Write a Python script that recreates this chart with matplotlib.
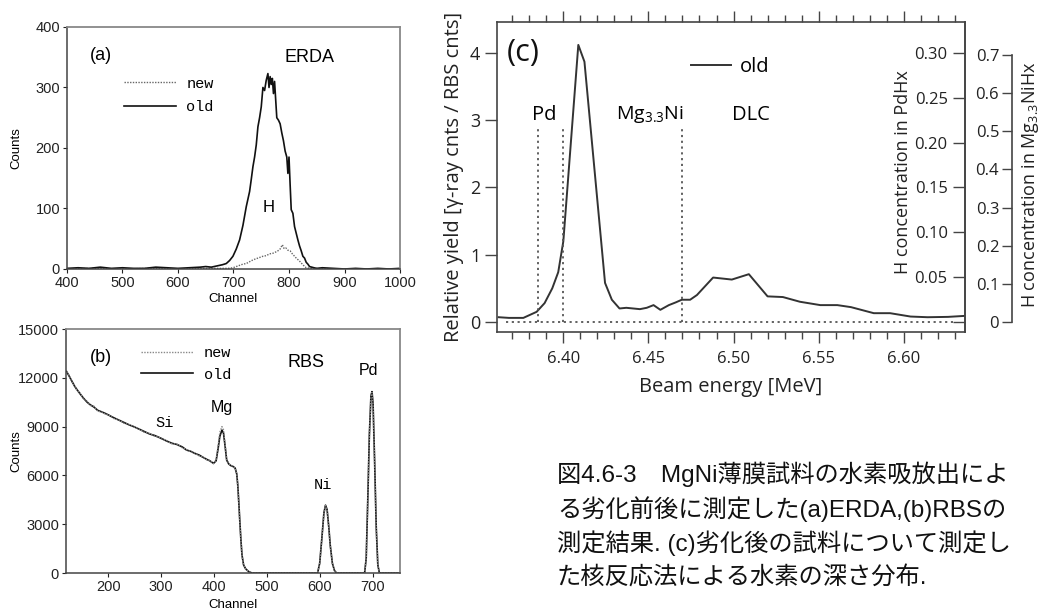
import matplotlib.pyplot as plt
import matplotlib as mpl
from matplotlib.ticker import MultipleLocator, FormatStrFormatter

mpl.rcParams['mathtext.default'] = 'regular'
narrow = ['Liberation Sans', 'DejaVu Sans']
mono = ['Liberation Mono', 'DejaVu Sans Mono']
myriad = ['Open Sans', 'DejaVu Sans']
cap_font = ['Liberation Sans', 'Noto Sans CJK JP']
plt.rcParams['font.family'] = narrow

# (a) ERDA spectra
erda_ch_old = [400, 420, 440, 460, 480, 500, 520, 540, 560, 580, 600, 620, 640,
               650, 660, 670, 680, 687, 693, 699, 705, 711, 717, 723, 729,
               732, 735, 738, 741, 744, 747, 750, 753, 756, 759, 762,
               764, 766, 768, 770, 772, 774, 776, 778,
               781, 784, 787, 790, 793, 796, 798, 800, 802, 804,
               807, 810, 813, 816, 819, 822, 825, 828, 831, 834, 837,
               841, 845, 850, 860, 880, 900, 920, 940, 960, 980, 1000]
erda_old = [1, 2, 1, 3, 1, 2, 1, 1, 3, 2, 1, 2, 3,
            4, 3, 5, 7, 9, 14, 21, 33, 48, 72, 103, 128,
            148, 169, 185, 205, 235, 250, 268, 300, 295, 312, 323,
            300, 318, 305, 315, 290, 310, 280, 250,
            246, 240, 225, 212, 195, 185, 158, 185, 140, 98,
            92, 70, 59, 48, 38, 30, 21, 18, 11, 8, 4,
            3, 2, 1, 2, 1, 0, 1, 0, 1, 0, 1]
erda_ch_new = [400, 450, 500, 550, 600, 650, 690, 699, 705, 711, 717, 723, 729,
               735, 741, 747, 753, 759, 765, 771, 776, 780, 784, 788, 791, 794,
               798, 802, 806, 810, 814, 818, 822, 826, 831, 840, 900, 1000]
erda_new = [0, 1, 0, 1, 0, 1, 1, 2, 4, 6, 8, 9, 12,
            15, 17, 19, 21, 22, 25, 26, 28, 30, 33, 40, 34, 35,
            31, 30, 25, 21, 17, 14, 10, 6, 2, 1, 0, 0]

# (b) RBS spectra
rbs_ch = [121, 126, 131, 136, 141, 147, 153, 160, 166, 173,
          180, 188, 195, 200, 210, 220, 230, 240, 248, 258,
          268, 278, 288, 295, 300, 310, 320, 330, 340, 348,
          356, 364, 372, 380, 386, 392, 399, 404, 408, 411,
          415, 418, 421, 424, 428, 432, 436, 440, 443, 445,
          447, 449, 451, 453, 456, 460, 466, 472, 500, 550,
          596, 600, 604, 608, 611, 614, 617, 620, 624, 628,
          632, 660, 685, 688, 691, 694, 697, 699, 701, 704,
          707, 710, 713, 730, 752]
rbs_old = [12390, 12100, 11800, 11500, 11260, 11000, 10750, 10500, 10340, 10200,
           10000, 9900, 9800, 9720, 9550, 9400, 9250, 9100, 9000, 8850,
           8700, 8550, 8450, 8350, 8280, 8120, 7980, 7900, 7750, 7560,
           7480, 7350, 7250, 7100, 6990, 6900, 6740, 6900, 7700, 8400,
           8790, 8600, 7800, 6940, 6700, 6600, 6550, 6450, 6100, 5400,
           4300, 3100, 2000, 1100, 500, 250, 80, 0, 0, 0,
           0, 600, 2100, 3700, 4170, 3900, 2900, 1700, 600, 150,
           0, 0, 0, 900, 4500, 8500, 10900, 11150, 10400, 6800,
           2800, 500, 0, 0, 0]
rbs_new = [12350, 12150, 11750, 11550, 11200, 11050, 10700, 10550, 10300, 10250,
           9950, 9900, 9750, 9750, 9500, 9420, 9200, 9120, 8980, 8870,
           8650, 8580, 8400, 8380, 8250, 8150, 7950, 7920, 7700, 7580,
           7450, 7380, 7200, 7120, 6960, 6920, 6720, 6950, 7850, 8650,
           9000, 8800, 7900, 7000, 6720, 6620, 6560, 6430, 6080, 5350,
           4250, 3050, 1950, 1050, 480, 230, 70, 0, 0, 0,
           0, 580, 2050, 3650, 4150, 3880, 2850, 1650, 580, 140,
           0, 0, 0, 880, 4450, 8450, 10850, 11100, 10350, 6750,
           2750, 480, 0, 0, 0]

# (c) nuclear reaction analysis depth profile
nra_e = [6.362, 6.368, 6.3765, 6.3843, 6.389, 6.3935, 6.397, 6.400, 6.4088, 6.4124,
         6.4245, 6.4285, 6.433, 6.437, 6.441, 6.445, 6.449, 6.453, 6.457, 6.462,
         6.466, 6.4696, 6.4745, 6.4785, 6.488, 6.499, 6.509, 6.520, 6.529, 6.539,
         6.551, 6.561, 6.569, 6.5824, 6.592, 6.604, 6.614, 6.626, 6.636]
nra_y = [0.07, 0.06, 0.06, 0.15, 0.28, 0.5, 0.74, 1.2, 4.12, 3.87,
         0.58, 0.33, 0.20, 0.21, 0.20, 0.19, 0.21, 0.25, 0.18, 0.25,
         0.29, 0.33, 0.33, 0.40, 0.66, 0.63, 0.71, 0.38, 0.37, 0.30,
         0.25, 0.25, 0.22, 0.13, 0.13, 0.08, 0.07, 0.075, 0.09]
layer_edges = [6.385, 6.400, 6.470]
pd_ticks = [0, 0.05, 0.10, 0.15, 0.20, 0.25, 0.30]
mg_ticks = [0, 0.1, 0.2, 0.3, 0.4, 0.5, 0.6, 0.7]
pd_per_unit = 0.075
mg_per_unit = 0.1763

caption = ['図4.6-3\u3000MgNi薄膜試料の水素吸放出によ',
           'る劣化前後に測定した(a)ERDA,(b)RBSの',
           '測定結果. (c)劣化後の試料について測定し',
           'た核反応法による水素の深さ分布.']

fig = plt.figure(figsize=(10.48, 6.12), dpi=100)
axa = fig.add_axes([0.0639, 0.5605, 0.3178, 0.3954])
axb = fig.add_axes([0.0630, 0.0637, 0.3187, 0.3987])
axc = fig.add_axes([0.4742, 0.4575, 0.4466, 0.5065])


def style_spec(ax):
    for s in ['top', 'right']:
        ax.spines[s].set_color('#888')
        ax.spines[s].set_linewidth(1.3)
    for s in ['left', 'bottom']:
        ax.spines[s].set_color('#444')
        ax.spines[s].set_linewidth(1.1)
    ax.tick_params(direction='out', length=3, width=0.8, labelsize=10.5,
                   pad=2, colors='#222')


# ---- (a)
axa.plot(erda_ch_new, erda_new, color='#666', lw=1.0, ls=(0, (1, 1)), label='new')
axa.plot(erda_ch_old, erda_old, color='#111', lw=1.2, label='old')
axa.set_xlim(400, 1000)
axa.set_ylim(0, 400)
axa.set_xticks(range(400, 1001, 100))
axa.set_yticks(range(0, 401, 100))
style_spec(axa)
axa.set_ylabel('Counts', fontsize=9.5)
axa.yaxis.set_label_coords(-0.135, 0.5)
axa.set_xlabel('Channel', fontsize=9.5)
axa.xaxis.set_label_coords(0.5, -0.1)
axa.legend(loc='upper left', bbox_to_anchor=(0.17, 0.795), frameon=False,
           handlelength=3.4, handletextpad=0.7, labelspacing=0.62,
           borderpad=0, borderaxespad=0, prop={'family': mono, 'size': 11})
axa.text(0.069, 0.884, '(a)', transform=axa.transAxes, fontsize=13, va='center')
axa.text(0.727, 0.872, 'ERDA', transform=axa.transAxes, fontsize=13,
         va='center', ha='center')
axa.text(0.604, 0.252, 'H', transform=axa.transAxes, fontsize=12,
         va='center', ha='center')

# ---- (b)
axb.plot(rbs_ch, rbs_old, color='#111', lw=1.2, label='old')
axb.plot(rbs_ch, rbs_new, color='#888', lw=1.0, ls=(0, (1, 1)), label='new')
axb.set_xlim(120, 752)
axb.set_ylim(0, 15000)
axb.set_xticks(range(200, 701, 100))
axb.set_yticks(range(0, 15001, 3000))
style_spec(axb)
axb.set_ylabel('Counts', fontsize=9.5)
axb.yaxis.set_label_coords(-0.13, 0.5)
axb.set_xlabel('Channel', fontsize=9.5)
axb.xaxis.set_label_coords(0.5, -0.108)
hb, lb = axb.get_legend_handles_labels()
axb.legend(hb[::-1], lb[::-1], loc='upper left', bbox_to_anchor=(0.225, 0.93),
           frameon=False, handlelength=3.4, handletextpad=0.7, labelspacing=0.5,
           borderpad=0, borderaxespad=0, prop={'family': mono, 'size': 11})
axb.text(0.072, 0.885, '(b)', transform=axb.transAxes, fontsize=13, va='center')
axb.text(0.719, 0.861, 'RBS', transform=axb.transAxes, fontsize=13,
         va='center', ha='center')
axb.text(0.296, 0.615, 'Si', transform=axb.transAxes, fontsize=11,
         va='center', ha='center', family=mono)
axb.text(0.467, 0.680, 'Mg', transform=axb.transAxes, fontsize=11.5,
         va='center', ha='center')
axb.text(0.77, 0.36, 'Ni', transform=axb.transAxes, fontsize=11,
         va='center', ha='center', family=mono)
axb.text(0.907, 0.832, 'Pd', transform=axb.transAxes, fontsize=11.5,
         va='center', ha='center')

# ---- (c)
cc = '#444'
tfs = 12
lfs = 14.5
axc.plot(nra_e, nra_y, color='#333', lw=1.4, label='old')
axc.vlines(layer_edges, 0, 2.9, colors='#555', linestyles=(0, (1.2, 2)), lw=1.3)
axc.hlines(0, 6.3665, 6.629, colors='#555', linestyles=(0, (1.2, 2)), lw=1.3)
axc.set_xlim(6.361, 6.636)
axc.set_ylim(-0.15, 4.46)
axc.set_xticks([6.40, 6.45, 6.50, 6.55, 6.60])
axc.xaxis.set_major_formatter(FormatStrFormatter('%.2f'))
axc.xaxis.set_minor_locator(MultipleLocator(0.01))
axc.set_yticks([0, 1, 2, 3, 4])
for s in axc.spines.values():
    s.set_color(cc)
    s.set_linewidth(1.2)
axc.tick_params(axis='x', which='both', top=True, direction='out', width=1,
                colors=cc, labelcolor='#222', labelsize=tfs, labelfontfamily=myriad)
axc.tick_params(axis='x', which='major', length=8, pad=6)
axc.tick_params(axis='x', which='minor', length=5)
axc.tick_params(axis='y', direction='out', length=9, width=1, pad=3, colors=cc,
                labelcolor='#222', labelsize=tfs + 1, labelfontfamily=myriad)
axc.set_ylabel('Relative yield [γ-ray cnts / RBS cnts]', fontsize=lfs, family=myriad,
               color='#222')
axc.yaxis.set_label_coords(-0.07, 0.5)
axc.set_xlabel('Beam energy [MeV]', fontsize=lfs, family=myriad, color='#222')
axc.xaxis.set_label_coords(0.5, -0.145)
axc.legend(loc='center left', bbox_to_anchor=(0.415, 0.855), frameon=False,
           handlelength=2.0, handletextpad=0.4, borderpad=0, borderaxespad=0,
           prop={'family': myriad, 'size': lfs})
axc.text(6.3665, 4.0, '(c)', fontsize=22, family=myriad, va='center', color='#111')
axc.text(6.389, 3.08, 'Pd', fontsize=lfs, family=myriad, va='center', ha='center')
axc.text(6.451, 3.08, 'Mg$_{3.3}$Ni', fontsize=14, family=myriad, va='center',
         ha='center')
axc.text(6.5105, 3.08, 'DLC', fontsize=lfs, family=myriad, va='center', ha='center')

ax2 = axc.twinx()
ax2.set_ylim(-0.15 * pd_per_unit, 4.46 * pd_per_unit)
for s in ['top', 'bottom', 'right']:
    ax2.spines[s].set_visible(False)
ax2.spines['left'].set_position(('axes', 1.0))
ax2.spines['left'].set_color(cc)
ax2.spines['left'].set_linewidth(1.2)
ax2.yaxis.tick_left()
ax2.yaxis.set_label_position('left')
ax2.set_yticks(pd_ticks)
ax2.set_yticklabels([''] + ['%.2f' % v for v in pd_ticks[1:]])
ax2.tick_params(axis='y', direction='out', length=9, width=1, pad=3.5, colors=cc,
                labelcolor='#222', labelsize=tfs, labelfontfamily=myriad)
ax2.set_ylabel('H concentration in PdHx', fontsize=13, family=myriad, color='#222')
ax2.yaxis.set_label_coords(0.887, 0.516)

ax3 = axc.twinx()
ax3.set_ylim(-0.15 * mg_per_unit, 4.46 * mg_per_unit)
for s in ['top', 'bottom', 'right']:
    ax3.spines[s].set_visible(False)
ax3.spines['left'].set_position(('axes', 1.0998))
ax3.spines['left'].set_bounds(0, 0.7)
ax3.spines['left'].set_color(cc)
ax3.spines['left'].set_linewidth(1.2)
ax3.yaxis.tick_left()
ax3.set_yticks(mg_ticks)
ax3.set_yticklabels(['0'] + ['%.1f' % v for v in mg_ticks[1:]])
ax3.tick_params(axis='y', direction='out', length=7, width=1, pad=2, colors=cc,
                labelcolor='#222', labelsize=tfs, labelfontfamily=myriad)
ax3.yaxis.set_label_position('right')
ax3.set_ylabel('H concentration in Mg$_{3.3}$NiHx', fontsize=13, family=myriad,
               color='#222')
ax3.yaxis.set_label_coords(1.1175, 0.474)

# caption
for i, line in enumerate(caption):
    fig.text(557 / 1048, 1 - (474 + 34.7 * i) / 612, line, fontsize=17.5,
             family=cap_font, va='center', ha='left', color='#111')

fig.savefig('out.png', dpi=100)
